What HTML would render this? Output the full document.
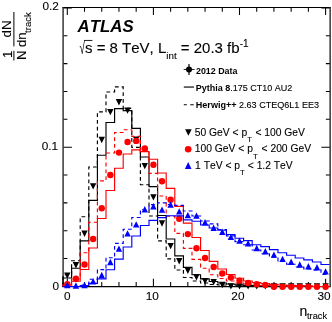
<!DOCTYPE html>
<html lang="en"><head><meta charset="utf-8"><title>ATLAS n_track</title>
<style>html,body{margin:0;padding:0;background:#fff}body{width:332px;height:322px;overflow:hidden}svg{display:block}text{font-family:"Liberation Sans",Arial,Helvetica,sans-serif;fill:#000;font-kerning:none;font-variant-ligatures:none;stroke:#000;stroke-width:.1px}.b,.bi{stroke-width:0}.b{font-weight:bold}.bi{font-weight:bold;font-style:italic}</style></head><body>
<svg width="332" height="322" viewBox="0 0 332 322">
<rect width="332" height="322" fill="#fff"/>
<defs><clipPath id="c"><rect x="62.0" y="7.0" width="268.6" height="283.6"/></clipPath></defs>
<path d="M67.30,286.6v-7.90M67.30,7.5v7.6M84.52,286.6v-4.50M84.52,7.5v4.2M101.74,286.6v-4.50M101.74,7.5v4.2M118.96,286.6v-4.50M118.96,7.5v4.2M136.18,286.6v-4.50M136.18,7.5v4.2M153.40,286.6v-7.90M153.40,7.5v7.6M170.62,286.6v-4.50M170.62,7.5v4.2M187.84,286.6v-4.50M187.84,7.5v4.2M205.06,286.6v-4.50M205.06,7.5v4.2M222.28,286.6v-4.50M222.28,7.5v4.2M239.50,286.6v-7.90M239.50,7.5v7.6M256.72,286.6v-4.50M256.72,7.5v4.2M273.94,286.6v-4.50M273.94,7.5v4.2M291.16,286.6v-4.50M291.16,7.5v4.2M308.38,286.6v-4.50M308.38,7.5v4.2M325.60,286.6v-7.90M325.60,7.5v7.6M63.10,286.40h8.8M330.15,286.40h-8.8M63.10,258.55h4.3M330.15,258.55h-4.3M63.10,230.70h4.3M330.15,230.70h-4.3M63.10,202.85h4.3M330.15,202.85h-4.3M63.10,175.00h4.3M330.15,175.00h-4.3M63.10,147.15h8.8M330.15,147.15h-8.8M63.10,119.30h4.3M330.15,119.30h-4.3M63.10,91.45h4.3M330.15,91.45h-4.3M63.10,63.60h4.3M330.15,63.60h-4.3M63.10,35.75h4.3M330.15,35.75h-4.3M63.10,7.90h8.8M330.15,7.90h-8.8" stroke="#000" stroke-width="1.05" fill="none"/>
<path d="M62.40,7.5H330.85" stroke="#000" stroke-width="1.15" fill="none"/>
<path d="M62.40,286.6H330.85" stroke="#000" stroke-width="1.35" fill="none"/>
<path d="M63.10,7.5V286.6M330.15,7.5V286.6" stroke="#383838" stroke-width="1.5" fill="none"/>
<g clip-path="url(#c)">
<path d="M63.00,286.60L63.00,278.00L71.60,278.00L71.60,268.20L80.20,268.20L80.20,240.80L88.80,240.80L88.80,200.30L97.40,200.30L97.40,155.20L106.00,155.20L106.00,122.50L114.60,122.50L114.60,108.60L123.20,108.60L123.20,110.60L131.80,110.60L131.80,128.40L140.40,128.40L140.40,157.00L149.00,157.00L149.00,186.60L157.60,186.60L157.60,215.50L166.20,215.50L166.20,239.00L174.80,239.00L174.80,255.80L183.40,255.80L183.40,267.30L192.00,267.30L192.00,274.70L200.60,274.70L200.60,278.80L209.20,278.80L209.20,281.50L217.80,281.50L217.80,283.00L226.40,283.00L226.40,284.00L235.00,284.00L235.00,284.80L243.60,284.80L243.60,285.30L252.20,285.30L252.20,285.60L260.80,285.60L260.80,285.80L269.40,285.80L269.40,286.50L278.00,286.50L278.00,286.50L286.60,286.50L286.60,286.50L295.20,286.50L295.20,286.50L303.80,286.50L303.80,286.50L312.40,286.50L312.40,286.50L321.00,286.50L321.00,286.50L329.60,286.50" stroke="#000" stroke-width="1.15" fill="none"/>
<path d="M63.00,286.60L63.00,274.70L71.60,274.70L71.60,260.70L80.20,260.70L80.20,216.70L88.80,216.70L88.80,167.00L97.40,167.00L97.40,111.90L106.00,111.90L106.00,92.00L114.60,92.00L114.60,86.90L123.20,86.90L123.20,108.40L131.80,108.40L131.80,147.40L140.40,147.40L140.40,184.70L149.00,184.70L149.00,216.00L157.60,216.00L157.60,240.80L166.20,240.80L166.20,258.90L174.80,258.90L174.80,270.00L183.40,270.00L183.40,277.50L192.00,277.50L192.00,281.00L200.60,281.00L200.60,283.00L209.20,283.00L209.20,284.50L217.80,284.50L217.80,285.00L226.40,285.00L226.40,285.50L235.00,285.50L235.00,285.80L243.60,285.80L243.60,286.50L252.20,286.50L252.20,286.50L260.80,286.50L260.80,286.50L269.40,286.50L269.40,286.50L278.00,286.50L278.00,286.50L286.60,286.50L286.60,286.50L295.20,286.50L295.20,286.50L303.80,286.50L303.80,286.50L312.40,286.50L312.40,286.50L321.00,286.50L321.00,286.50L329.60,286.50" stroke="#000" stroke-width="1.15" stroke-dasharray="3.8 3.0" fill="none"/>
</g>
<path d="M64.10,272.40L70.50,272.40L67.30,278.80ZM72.71,262.00L79.11,262.00L75.91,268.40ZM81.32,230.50L87.72,230.50L84.52,236.90ZM89.93,183.20L96.33,183.20L93.13,189.60ZM98.54,136.80L104.94,136.80L101.74,143.20ZM107.15,108.90L113.55,108.90L110.35,115.30ZM115.76,99.00L122.16,99.00L118.96,105.40ZM124.37,107.40L130.77,107.40L127.57,113.80ZM132.98,136.40L139.38,136.40L136.18,142.80ZM141.59,162.90L147.99,162.90L144.79,169.30ZM150.20,194.20L156.60,194.20L153.40,200.60ZM158.81,220.30L165.21,220.30L162.01,226.70ZM167.42,242.90L173.82,242.90L170.62,249.30ZM176.03,258.00L182.43,258.00L179.23,264.40ZM184.64,267.50L191.04,267.50L187.84,273.90ZM193.25,274.10L199.65,274.10L196.45,280.50ZM201.86,278.00L208.26,278.00L205.06,284.40ZM210.47,278.90L216.87,278.90L213.67,285.30ZM219.08,281.80L225.48,281.80L222.28,288.20ZM227.69,283.20L234.09,283.20L230.89,289.60ZM236.30,283.20L242.70,283.20L239.50,289.60ZM244.91,283.20L251.31,283.20L248.11,289.60ZM253.52,283.20L259.92,283.20L256.72,289.60ZM262.13,283.20L268.53,283.20L265.33,289.60ZM270.74,283.20L277.14,283.20L273.94,289.60ZM279.35,283.20L285.75,283.20L282.55,289.60ZM287.96,283.20L294.36,283.20L291.16,289.60ZM296.57,283.20L302.97,283.20L299.77,289.60ZM305.18,283.20L311.58,283.20L308.38,289.60ZM313.79,283.20L320.19,283.20L316.99,289.60ZM322.40,283.20L328.80,283.20L325.60,289.60Z" fill="#000"/>
<g clip-path="url(#c)">
<path d="M63.00,286.60L63.00,285.00L71.60,285.00L71.60,281.20L80.20,281.20L80.20,269.50L88.80,269.50L88.80,248.00L97.40,248.00L97.40,218.50L106.00,218.50L106.00,190.50L114.60,190.50L114.60,168.20L123.20,168.20L123.20,154.00L131.80,154.00L131.80,149.80L140.40,149.80L140.40,151.60L149.00,151.60L149.00,159.20L157.60,159.20L157.60,173.00L166.20,173.00L166.20,188.30L174.80,188.30L174.80,206.30L183.40,206.30L183.40,223.10L192.00,223.10L192.00,237.50L200.60,237.50L200.60,250.50L209.20,250.50L209.20,261.30L217.80,261.30L217.80,269.00L226.40,269.00L226.40,274.50L235.00,274.50L235.00,278.20L243.60,278.20L243.60,281.00L252.20,281.00L252.20,282.50L260.80,282.50L260.80,283.50L269.40,283.50L269.40,284.30L278.00,284.30L278.00,285.00L286.60,285.00L286.60,285.30L295.20,285.30L295.20,285.60L303.80,285.60L303.80,285.80L312.40,285.80L312.40,286.50L321.00,286.50L321.00,286.50L329.60,286.50" stroke="#f00" stroke-width="1.15" fill="none"/>
<path d="M63.00,286.60L63.00,285.00L71.60,285.00L71.60,279.00L80.20,279.00L80.20,252.70L88.80,252.70L88.80,222.20L97.40,222.20L97.40,180.90L106.00,180.90L106.00,153.00L114.60,153.00L114.60,132.50L123.20,132.50L123.20,129.70L131.80,129.70L131.80,136.40L140.40,136.40L140.40,150.00L149.00,150.00L149.00,173.40L157.60,173.40L157.60,196.00L166.20,196.00L166.20,216.20L174.80,216.20L174.80,233.40L183.40,233.40L183.40,248.30L192.00,248.30L192.00,259.40L200.60,259.40L200.60,268.20L209.20,268.20L209.20,274.70L217.80,274.70L217.80,278.50L226.40,278.50L226.40,281.00L235.00,281.00L235.00,283.00L243.60,283.00L243.60,284.00L252.20,284.00L252.20,284.80L260.80,284.80L260.80,285.30L269.40,285.30L269.40,285.60L278.00,285.60L278.00,285.80L286.60,285.80L286.60,286.50L295.20,286.50L295.20,286.50L303.80,286.50L303.80,286.50L312.40,286.50L312.40,286.50L321.00,286.50L321.00,286.50L329.60,286.50" stroke="#f00" stroke-width="1.15" stroke-dasharray="3.8 3.0" fill="none"/>
</g>
<circle cx="67.30" cy="284.30" r="3.2" fill="#f00"/>
<circle cx="75.91" cy="278.80" r="3.2" fill="#f00"/>
<circle cx="84.52" cy="264.50" r="3.2" fill="#f00"/>
<circle cx="93.13" cy="239.00" r="3.2" fill="#f00"/>
<circle cx="101.74" cy="208.20" r="3.2" fill="#f00"/>
<circle cx="110.35" cy="175.00" r="3.2" fill="#f00"/>
<circle cx="118.96" cy="152.60" r="3.2" fill="#f00"/>
<circle cx="127.57" cy="142.00" r="3.2" fill="#f00"/>
<circle cx="136.18" cy="140.90" r="3.2" fill="#f00"/>
<circle cx="144.79" cy="148.50" r="3.2" fill="#f00"/>
<circle cx="153.40" cy="164.70" r="3.2" fill="#f00"/>
<circle cx="162.01" cy="181.20" r="3.2" fill="#f00"/>
<circle cx="170.62" cy="199.80" r="3.2" fill="#f00"/>
<circle cx="179.23" cy="218.80" r="3.2" fill="#f00"/>
<circle cx="187.84" cy="234.10" r="3.2" fill="#f00"/>
<circle cx="196.45" cy="248.30" r="3.2" fill="#f00"/>
<circle cx="205.06" cy="258.00" r="3.2" fill="#f00"/>
<circle cx="213.67" cy="267.00" r="3.2" fill="#f00"/>
<circle cx="222.28" cy="273.50" r="3.2" fill="#f00"/>
<circle cx="230.89" cy="277.60" r="3.2" fill="#f00"/>
<circle cx="239.50" cy="280.60" r="3.2" fill="#f00"/>
<circle cx="248.11" cy="282.90" r="3.2" fill="#f00"/>
<circle cx="256.72" cy="284.20" r="3.2" fill="#f00"/>
<circle cx="265.33" cy="285.00" r="3.2" fill="#f00"/>
<circle cx="273.94" cy="286.85" r="3.2" fill="#f00"/>
<circle cx="282.55" cy="286.85" r="3.2" fill="#f00"/>
<circle cx="291.16" cy="286.85" r="3.2" fill="#f00"/>
<circle cx="299.77" cy="286.85" r="3.2" fill="#f00"/>
<circle cx="308.38" cy="286.85" r="3.2" fill="#f00"/>
<circle cx="316.99" cy="286.85" r="3.2" fill="#f00"/>
<circle cx="325.60" cy="286.85" r="3.2" fill="#f00"/>
<g clip-path="url(#c)">
<path d="M63.00,286.60L63.00,286.50L71.60,286.50L71.60,286.50L80.20,286.50L80.20,285.50L88.80,285.50L88.80,283.40L97.40,283.40L97.40,278.80L106.00,278.80L106.00,269.70L114.60,269.70L114.60,259.10L123.20,259.10L123.20,247.00L131.80,247.00L131.80,236.00L140.40,236.00L140.40,225.50L149.00,225.50L149.00,220.30L157.60,220.30L157.60,217.60L166.20,217.60L166.20,215.70L174.80,215.70L174.80,215.90L183.40,215.90L183.40,219.90L192.00,219.90L192.00,221.20L200.60,221.20L200.60,225.00L209.20,225.00L209.20,228.00L217.80,228.00L217.80,230.20L226.40,230.20L226.40,234.50L235.00,234.50L235.00,238.20L243.60,238.20L243.60,240.60L252.20,240.60L252.20,244.70L260.80,244.70L260.80,246.60L269.40,246.60L269.40,249.60L278.00,249.60L278.00,252.70L286.60,252.70L286.60,255.20L295.20,255.20L295.20,258.00L303.80,258.00L303.80,259.80L312.40,259.80L312.40,262.00L321.00,262.00L321.00,264.50L329.60,264.50" stroke="#00f" stroke-width="1.15" fill="none"/>
<path d="M63.00,286.60L63.00,286.50L71.60,286.50L71.60,286.50L80.20,286.50L80.20,285.00L88.80,285.00L88.80,279.20L97.40,279.20L97.40,269.60L106.00,269.60L106.00,257.70L114.60,257.70L114.60,243.40L123.20,243.40L123.20,229.20L131.80,229.20L131.80,217.50L140.40,217.50L140.40,209.50L149.00,209.50L149.00,204.60L157.60,204.60L157.60,202.80L166.20,202.80L166.20,204.50L174.80,204.50L174.80,205.40L183.40,205.40L183.40,211.00L192.00,211.00L192.00,216.00L200.60,216.00L200.60,221.00L209.20,221.00L209.20,223.90L217.80,223.90L217.80,229.50L226.40,229.50L226.40,235.90L235.00,235.90L235.00,241.60L243.60,241.60L243.60,244.70L252.20,244.70L252.20,250.00L260.80,250.00L260.80,253.70L269.40,253.70L269.40,257.10L278.00,257.10L278.00,261.40L286.60,261.40L286.60,264.20L295.20,264.20L295.20,267.00L303.80,267.00L303.80,268.80L312.40,268.80L312.40,269.80L321.00,269.80L321.00,274.30L329.60,274.30" stroke="#00f" stroke-width="1.15" stroke-dasharray="3.8 3.0" fill="none"/>
</g>
<path d="M64.10,288.20L70.50,288.20L67.30,281.80ZM72.71,288.70L79.11,288.70L75.91,282.30ZM81.32,288.20L87.72,288.20L84.52,281.80ZM89.93,284.40L96.33,284.40L93.13,278.00ZM98.54,278.20L104.94,278.20L101.74,271.80ZM107.15,265.20L113.55,265.20L110.35,258.80ZM115.76,251.80L122.16,251.80L118.96,245.40ZM124.37,236.60L130.77,236.60L127.57,230.20ZM132.98,227.60L139.38,227.60L136.18,221.20ZM141.59,212.40L147.99,212.40L144.79,206.00ZM150.20,209.40L156.60,209.40L153.40,203.00ZM158.81,212.80L165.21,212.80L162.01,206.40ZM167.42,207.70L173.82,207.70L170.62,201.30ZM176.03,214.60L182.43,214.60L179.23,208.20ZM184.64,218.30L191.04,218.30L187.84,211.90ZM193.25,218.80L199.65,218.80L196.45,212.40ZM201.86,225.40L208.26,225.40L205.06,219.00ZM210.47,231.00L216.87,231.00L213.67,224.60ZM219.08,234.90L225.48,234.90L222.28,228.50ZM227.69,240.10L234.09,240.10L230.89,233.70ZM236.30,243.80L242.70,243.80L239.50,237.40ZM244.91,246.40L251.31,246.40L248.11,240.00ZM253.52,251.20L259.92,251.20L256.72,244.80ZM262.13,254.40L268.53,254.40L265.33,248.00ZM270.74,257.80L277.14,257.80L273.94,251.40ZM279.35,262.10L285.75,262.10L282.55,255.70ZM287.96,264.90L294.36,264.90L291.16,258.50ZM296.57,267.70L302.97,267.70L299.77,261.30ZM305.18,269.50L311.58,269.50L308.38,263.10ZM313.79,270.50L320.19,270.50L316.99,264.10ZM322.40,274.60L328.80,274.60L325.60,268.20Z" fill="#00f"/>
<text x="67.4" y="300.2" font-size="11.8" text-anchor="middle">0</text>
<text x="152.2" y="300.2" font-size="11.8" text-anchor="middle">10</text>
<text x="237.9" y="300.2" font-size="11.8" text-anchor="middle">20</text>
<text x="330.7" y="300.2" font-size="11.8" text-anchor="end">30</text>
<text x="59.0" y="289.5" font-size="11.8" text-anchor="end">0</text>
<text x="58.2" y="150.0" font-size="11.8" text-anchor="end">0.1</text>
<text x="58.8" y="9.9" font-size="11.8" text-anchor="end">0.2</text>
<text x="299.5" y="315.8" font-size="14">n<tspan font-size="9.25" dy="3.3" dx="-0.3">track</tspan></text>
<g transform="translate(0,0) rotate(-90)">
<text x="-54.3" y="11.7" font-size="13" text-anchor="middle">1</text>
<text x="-55.4" y="26" font-size="13" text-anchor="middle">N</text>
<text x="-29.0" y="11.3" font-size="13.4" text-anchor="middle">dN</text>
<text x="-46.9" y="26.3" font-size="13">dn<tspan font-size="9.55" dy="4.4" dx="-0.5">track</tspan></text>
<path d="M-60.5,13.9H-50.8M-46.4,13.9H-12" stroke="#000" stroke-width="1" fill="none"/>
</g>
<text class="bi" x="77.6" y="31.9" font-size="16.1" textLength="56.1" lengthAdjust="spacingAndGlyphs">ATLAS</text>
<text x="79.4" y="53.7" font-size="17.3" textLength="5.4" lengthAdjust="spacingAndGlyphs" style="stroke-width:0">√</text>
<path d="M84.2,40.45H92.4" stroke="#000" stroke-width="0.9" fill="none"/>
<text x="85" y="52.7" font-size="15">s = 8 TeV, L<tspan font-size="9.8" dy="6">int</tspan><tspan dy="-6"> = 20.3 fb</tspan><tspan font-size="10" dy="-5.6">-1</tspan></text>
<path d="M183.7,69.45H194.6" stroke="#000" stroke-width="0.9" fill="none"/>
<path d="M189,64V74.9" stroke="#000" stroke-width="1.2" fill="none"/>
<circle cx="189" cy="69.45" r="3" fill="#000"/>
<text class="b" x="196.0" y="73.5" font-size="8.9">2012 Data</text>
<path d="M183.8,87.05H194" stroke="#000" stroke-width="1.15" fill="none"/>
<text x="195.8" y="90.6" font-size="9"><tspan class="b">Pythia 8</tspan>.175 CT10 AU2</text>
<path d="M183.8,104.7H186.8M190.3,104.7H193.7" stroke="#000" stroke-width="1.15" fill="none"/>
<text x="195.8" y="107.7" font-size="9.05"><tspan class="b">Herwig++</tspan> 2.63 CTEQ6L1 EE3</text>
<path d="M185.10,129.15L191.70,129.15L188.40,135.85Z" fill="#000"/>
<circle cx="188.2" cy="149.3" r="3.3" fill="#f00"/>
<path d="M184.90,168.90L191.50,168.90L188.20,162.10Z" fill="#00f"/>
<text x="194.8" y="135.6" font-size="10.3">50 GeV &lt; p<tspan font-size="7.8" dy="6.6">T</tspan><tspan dy="-6.6" dx="0.6"> &lt; 100 GeV</tspan></text>
<text x="194.8" y="152.3" font-size="10.3">100 GeV &lt; p<tspan font-size="7.8" dy="6.6">T</tspan><tspan dy="-6.6" dx="1.0"> &lt; 200 GeV</tspan></text>
<text x="195.1" y="168.6" font-size="10.3">1 TeV &lt; p<tspan font-size="7.8" dy="6.6">T</tspan><tspan dy="-6.6" dx="0.1"> &lt; 1.2 TeV</tspan></text>
</svg></body></html>
